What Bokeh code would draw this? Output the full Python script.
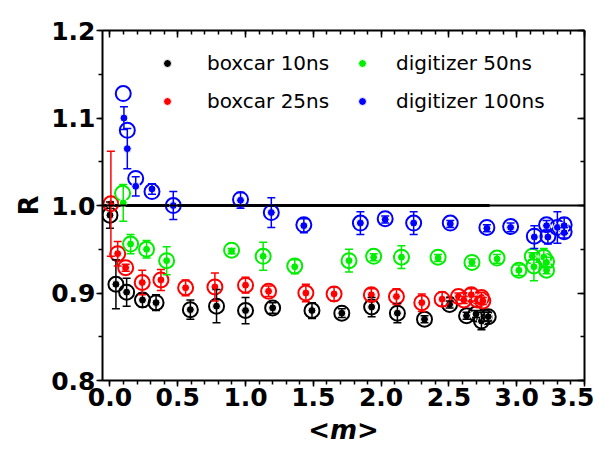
from bokeh.plotting import figure
from bokeh.models import (ColumnDataSource, Whisker, TeeHead, LinearAxis, SingleIntervalTicker,
                          NumeralTickFormatter, Legend, LegendItem, Range1d, Span,
                          CustomJSTickFormatter)
from bokeh.embed import file_html
from bokeh.resources import INLINE

# ---------------- data ----------------
# boxcar 10ns (black)
bk_x = [0.0, 0.044, 0.123, 0.24, 0.34, 0.593, 0.786, 1.0, 1.20, 1.49, 1.71, 1.93, 2.12, 2.32, 2.505, 2.63, 2.70, 2.74, 2.76, 2.79]
bk_y = [0.989, 0.910, 0.901, 0.892, 0.889, 0.881, 0.885, 0.880, 0.883, 0.880, 0.877, 0.884, 0.877, 0.870, 0.887, 0.874, 0.876, 0.868, 0.873, 0.873]
bk_e = [0.015, 0.028, 0.016, 0.008, 0.009, 0.011, 0.019, 0.015, 0.006, 0.009, 0.005, 0.011, 0.011, 0.004, 0.004, 0.004, 0.004, 0.010, 0.005, 0.005]
bk_ox = bk_x
bk_oy = bk_y

# boxcar 25ns (red)
rd_x = [0.007, 0.057, 0.116, 0.238, 0.376, 0.558, 0.774, 1.0, 1.17, 1.445, 1.653, 1.928, 2.113, 2.30, 2.45, 2.57, 2.61, 2.665, 2.71, 2.74, 2.75]
rd_y = [1.002, 0.945, 0.929, 0.912, 0.915, 0.906, 0.907, 0.909, 0.902, 0.900, 0.899, 0.898, 0.896, 0.889, 0.893, 0.896, 0.892, 0.898, 0.892, 0.895, 0.891]
rd_e = [0.060, 0.014, 0.004, 0.014, 0.012, 0.009, 0.016, 0.009, 0.006, 0.010, 0.008, 0.007, 0.009, 0.010, 0.008, 0.004, 0.004, 0.007, 0.004, 0.006, 0.004]
rd_ox = rd_x
rd_oy = rd_y

# digitizer 50ns (green)
gr_x = [0.098, 0.152, 0.27, 0.418, 0.897, 1.13, 1.363, 1.763, 1.945, 2.15, 2.42, 2.67, 2.855, 3.016, 3.115, 3.127, 3.20, 3.22, 3.22]
gr_y = [1.003, 0.956, 0.950, 0.937, 0.948, 0.942, 0.930, 0.937, 0.941, 0.941, 0.940, 0.935, 0.939, 0.926, 0.942, 0.930, 0.941, 0.935, 0.926]
gr_e = [0.021, 0.011, 0.010, 0.016, 0.003, 0.016, 0.008, 0.013, 0.004, 0.013, 0.004, 0.004, 0.005, 0.006, 0.004, 0.016, 0.010, 0.006, 0.004]
gr_ox = [0.093, 0.152, 0.27, 0.418, 0.897, 1.13, 1.363, 1.763, 1.945, 2.15, 2.42, 2.67, 2.855, 3.016, 3.115, 3.127, 3.20, 3.22, 3.22]
gr_oy = [1.014, 0.956, 0.950, 0.937, 0.949, 0.942, 0.931, 0.937, 0.942, 0.941, 0.941, 0.935, 0.940, 0.926, 0.942, 0.931, 0.941, 0.936, 0.926]

# digitizer 100ns (blue)
bl_x = [0.103, 0.128, 0.19, 0.31, 0.467, 0.963, 1.19, 1.43, 1.847, 2.03, 2.24, 2.51, 2.78, 2.955, 3.13, 3.22, 3.23, 3.30, 3.35, 3.35]
bl_y = [1.100, 1.065, 1.022, 1.019, 1.000, 1.006, 0.992, 0.977, 0.980, 0.984, 0.980, 0.979, 0.974, 0.975, 0.964, 0.977, 0.964, 0.975, 0.977, 0.969]
bl_e = [0.013, 0.023, 0.011, 0.006, 0.016, 0.009, 0.017, 0.008, 0.013, 0.004, 0.013, 0.004, 0.004, 0.005, 0.013, 0.006, 0.008, 0.018, 0.009, 0.006]
bl_ox = [0.098, 0.128, 0.19, 0.31, 0.467, 0.963, 1.19, 1.43, 1.847, 2.03, 2.24, 2.51, 2.78, 2.955, 3.13, 3.22, 3.23, 3.30, 3.35, 3.35]
bl_oy = [1.128, 1.086, 1.031, 1.016, 1.000, 1.007, 0.992, 0.978, 0.980, 0.985, 0.980, 0.980, 0.975, 0.976, 0.965, 0.978, 0.965, 0.975, 0.978, 0.970]

series_names = ["boxcar 10ns", "boxcar 25ns", "digitizer 50ns", "digitizer 100ns"]
series_colors = ["#000000", "#ff0000", "#00ee00", "#0000ff"]

ref_y = 1.0          # R = 1 reference line
ref_thick_end = 2.8  # thicker part of the reference line ends here

x_range = (-0.055, 3.5)
y_range = (0.8, 1.2001)
x_major = 0.5
y_major = 0.1

FONT = "DejaVu Sans"

p = figure(frame_width=482, frame_height=350, output_backend="svg", toolbar_location=None,
           x_range=Range1d(*x_range), y_range=Range1d(*y_range),
           x_axis_type=None, y_axis_type=None,
           min_border_left=102, min_border_top=30, min_border_right=10, min_border_bottom=10)
p.grid.visible = False
p.outline_line_color = None
p.background_fill_color = "white"
p.border_fill_color = "white"

xt = SingleIntervalTicker(interval=x_major, num_minor_ticks=5)
yt = SingleIntervalTicker(interval=y_major, num_minor_ticks=2)

def style(ax, labels, inward):
    ax.axis_line_width = 2
    ax.axis_line_color = "black"
    ax.major_tick_line_width = 1.5
    ax.minor_tick_line_width = 1.5
    if inward:
        ax.major_tick_in, ax.major_tick_out = 7, 0
        ax.minor_tick_in, ax.minor_tick_out = 4, 0
    else:
        ax.major_tick_in, ax.major_tick_out = 0, 6
        ax.minor_tick_in, ax.minor_tick_out = 0, 4
    if labels:
        ax.formatter = NumeralTickFormatter(format="0.0")
        ax.major_label_text_font = FONT
        ax.major_label_text_font_size = "25px"
        ax.major_label_text_font_style = "bold"
        ax.major_label_text_color = "black"
        ax.major_label_standoff = 1
        ax.axis_label_text_font = FONT
        ax.axis_label_text_font_size = "26px"
        ax.axis_label_text_font_style = "bold"
        ax.axis_label_text_color = "black"
    else:
        ax.formatter = CustomJSTickFormatter(code="return ''")
        ax.major_label_text_font_size = "1px"
        ax.major_label_standoff = 0

bottom = LinearAxis(ticker=xt, axis_label="<m>")
style(bottom, True, False)
bottom.axis_label_text_font_style = "bold italic"
bottom.axis_label_standoff = 6
left = LinearAxis(ticker=yt, axis_label="R")
style(left, True, False)
left.axis_label_standoff = 4
top = LinearAxis(ticker=xt)
style(top, False, True)
right = LinearAxis(ticker=yt)
style(right, False, True)
p.add_layout(bottom, "below")
p.add_layout(left, "left")
p.add_layout(top, "above")
p.add_layout(right, "right")

# reference line R = 1
p.add_layout(Span(location=ref_y, dimension="width", line_color="black", line_width=2))
p.segment(x0=[x_range[0]], y0=[ref_y], x1=[ref_thick_end], y1=[ref_y], line_color="black", line_width=3)

all_series = [
    (bk_x, bk_y, bk_e, bk_ox, bk_oy),
    (rd_x, rd_y, rd_e, rd_ox, rd_oy),
    (gr_x, gr_y, gr_e, gr_ox, gr_oy),
    (bl_x, bl_y, bl_e, bl_ox, bl_oy),
]

filled = []
for (xs, ys, es, oxs, oys), col in zip(all_series, series_colors):
    src = ColumnDataSource(dict(x=xs, y=ys,
                                lo=[y - e for y, e in zip(ys, es)],
                                hi=[y + e for y, e in zip(ys, es)]))
    w = Whisker(source=src, base="x", lower="lo", upper="hi", dimension="height",
                line_color=col, line_width=1.5, level="glyph",
                lower_head=TeeHead(size=8, line_color=col, line_width=1.5),
                upper_head=TeeHead(size=8, line_color=col, line_width=1.5))
    p.add_layout(w)
    p.scatter(x=oxs, y=oys, marker="circle", size=15, fill_color=None, line_color=col, line_width=2)
    r = p.scatter(x="x", y="y", source=src, marker="circle", size=8, fill_color=col,
                  line_color="white", line_width=1)
    filled.append(r)

def make_legend(items, loc, standoff):
    lg = Legend(items=items, location=loc, orientation="vertical",
                glyph_width=20, glyph_height=20, label_height=20, spacing=14,
                label_standoff=standoff, padding=0, margin=0,
                border_line_color=None, background_fill_alpha=0,
                label_text_font=FONT, label_text_font_size="20px", label_text_color="black")
    p.add_layout(lg)

make_legend([LegendItem(label=series_names[0], renderers=[filled[0]]),
             LegendItem(label=series_names[1], renderers=[filled[1]])], (55, 267), 30)
make_legend([LegendItem(label=series_names[2], renderers=[filled[2]]),
             LegendItem(label=series_names[3], renderers=[filled[3]])], (250, 267), 24)

open("out.html", "w").write(file_html(p, INLINE))
